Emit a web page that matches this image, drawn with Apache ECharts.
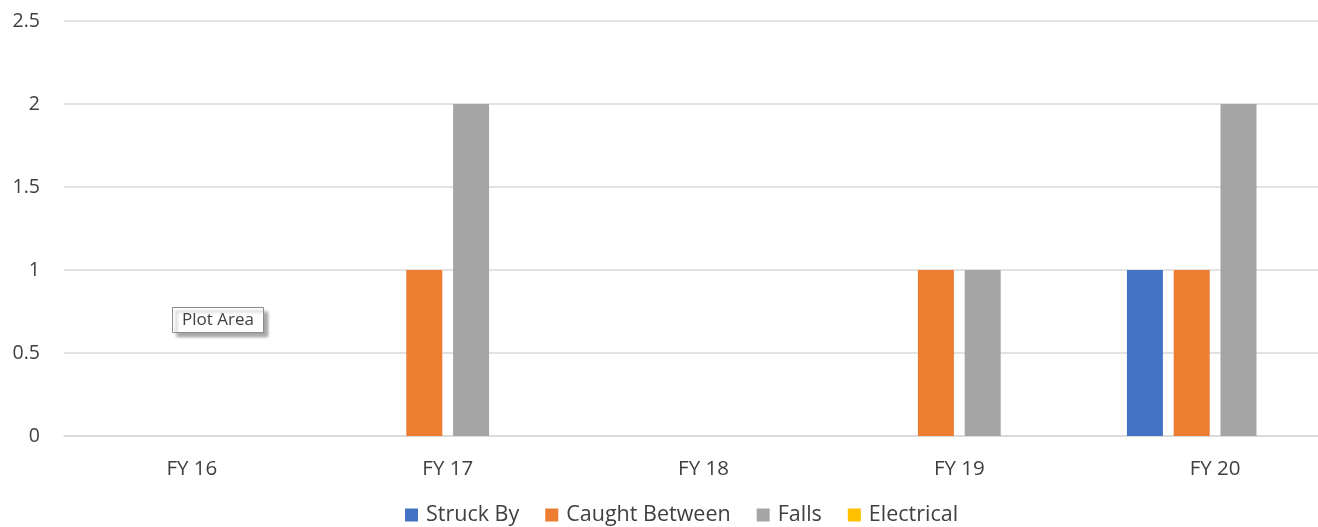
<!DOCTYPE html>
<html>
<head>
<meta charset="utf-8">
<script src="https://cdn.jsdelivr.net/npm/echarts@6/dist/echarts.min.js"></script>
<style>
  html, body { margin: 0; padding: 0; background: #fff; overflow: hidden; }
  #chart { width: 1343px; height: 527px; }
</style>
</head>
<body>
<div id="chart"></div>
<script>
// Incident counts by fiscal year and cause
const categories = ['FY 16', 'FY 17', 'FY 18', 'FY 19', 'FY 20'];
const struckBy = [0, 0, 0, 0, 1];
const caughtBetween = [0, 1, 0, 1, 1];
const falls = [0, 2, 0, 1, 2];
const electrical = [0, 0, 0, 0, 0];
const yTicks = { min: 0, max: 2.5, interval: 0.5 };

const FONT = '"Open Sans", Lato, "Liberation Sans", sans-serif';
const TEXT = '#404040';

const seriesDefs = [
  { name: 'Struck By', data: struckBy, color: '#4472C4' },
  { name: 'Caught Between', data: caughtBetween, color: '#ED7D31' },
  { name: 'Falls', data: falls, color: '#A5A5A5' },
  { name: 'Electrical', data: electrical, color: '#FFC000' }
];

const chart = echarts.init(document.getElementById('chart'), null, { renderer: 'canvas' });
chart.setOption({
  animation: false,
  textStyle: { fontFamily: FONT },
  grid: { left: 64, right: 0, top: 21, bottom: 91, containLabel: false },
  legend: {
    left: 405,
    bottom: 1,
    padding: 0,
    itemWidth: 13,
    itemHeight: 13,
    itemGap: 26,
    icon: 'rect',
    textStyle: { color: TEXT, fontSize: 21.5, fontFamily: FONT, padding: [0, 0, 0, 3] },
    data: seriesDefs.map(s => s.name)
  },
  xAxis: {
    type: 'category',
    data: categories,
    axisLine: { show: true, lineStyle: { color: '#d9d9d9', width: 1.5 } },
    axisTick: { show: false },
    axisLabel: { color: TEXT, fontSize: 20.5, margin: 23, fontFamily: FONT }
  },
  yAxis: {
    type: 'value',
    min: yTicks.min,
    max: yTicks.max,
    interval: yTicks.interval,
    axisLine: { show: false },
    axisTick: { show: false },
    axisLabel: { color: TEXT, fontSize: 19.5, margin: 24, fontFamily: FONT },
    splitLine: { lineStyle: { color: '#d9d9d9', width: 1.5 } }
  },
  series: seriesDefs.map(s => ({
    name: s.name,
    type: 'bar',
    data: s.data,
    barWidth: 36,
    barGap: '30%',
    itemStyle: { color: s.color }
  })),
  graphic: [
    {
      type: 'group',
      left: 172,
      top: 307,
      children: [
        {
          type: 'rect',
          shape: { x: 0, y: 0, width: 91, height: 25 },
          style: {
            fill: '#ffffff',
            stroke: '#8c8c8c',
            lineWidth: 1,
            shadowColor: 'rgba(0,0,0,0.35)',
            shadowBlur: 3,
            shadowOffsetX: 4,
            shadowOffsetY: 4
          }
        },
        {
          type: 'text',
          x: 45.5,
          y: 13,
          style: {
            text: 'Plot Area',
            fill: TEXT,
            fontSize: 17,
            fontFamily: FONT,
            align: 'center',
            verticalAlign: 'middle'
          }
        }
      ]
    }
  ]
});
</script>
</body>
</html>
